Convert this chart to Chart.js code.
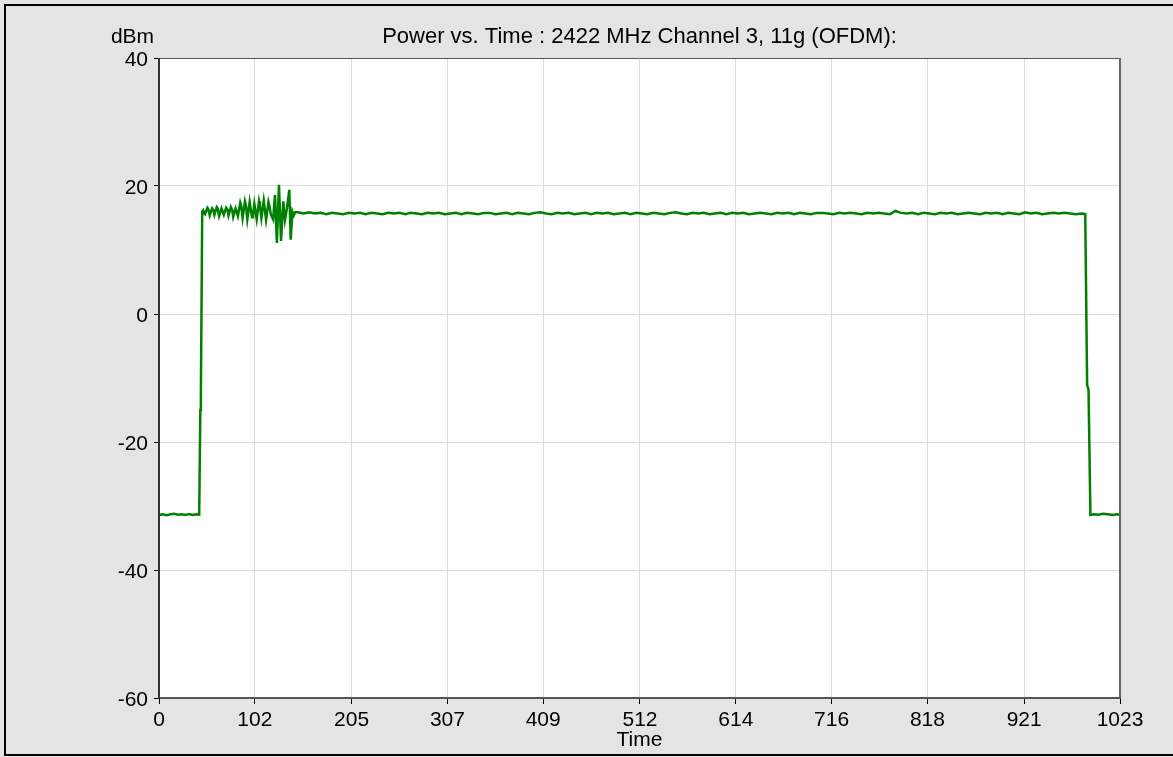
<!DOCTYPE html>
<html>
<head>
<meta charset="utf-8">
<title>Power vs. Time</title>
<script src="https://cdn.jsdelivr.net/npm/chart.js@4.4.1/dist/chart.umd.min.js"></script>
<style>
  html, body { margin: 0; padding: 0; background: #e4e4e4; }
  #wrap { width: 1173px; height: 757px; position: relative; }
</style>
</head>
<body>
<div id="wrap"><canvas id="chartPower"></canvas></div>
<script>
// values
const chartTitle = "Power vs. Time : 2422 MHz Channel 3, 11g (OFDM):";
const yUnit = "dBm";
const xTitle = "Time";
const xTickValues = [0, 102, 205, 307, 409, 512, 614, 716, 818, 921, 1023];

// noise floor before the burst, and the rising edge
const leadTime = [0, 4, 8, 12, 16, 20, 24, 28, 32, 36, 40, 42.8, 44, 44.6, 46];
const leadDbm = [-31.4, -31.3, -31.45, -31.3, -31.2, -31.35, -31.3, -31.4, -31.25, -31.4, -31.3, -31.35, -15, -12.3, 16.0];

// ringing at the start of the burst
const burstTime = [47, 48, 49, 51.5, 52.5, 54, 56.5, 58, 59, 61.5, 62.5, 64, 66.5, 67.5, 69, 71.5, 73, 74, 76.5, 78, 79, 81.5, 84,
  86.5, 87.5, 89, 91.5, 92.5, 94, 96.5, 99, 100, 101.5, 104, 106.5, 107.5, 109, 111.5, 114, 116.5, 117.5, 119, 121.5,
  123.5, 125.5, 127.7, 129.9, 132.3, 134.1, 136, 138.7, 140.2, 142, 143.5, 145];
const burstDbm = [16.2, 15.8, 15.6, 16.6, 16.4, 15.4, 16.5, 16.2, 15.5, 16.7, 16.5, 15.3, 16.5, 16.1, 15.5, 16.6, 16.3, 15.4, 16.7, 16.2, 15.2, 16.5, 15.3,
  17.4, 16.9, 15.0, 17.6, 17.0, 14.8, 17.5, 15.1, 15.4, 17.2, 14.8, 17.6, 16.8, 15.0, 17.7, 14.7, 17.5, 16.9, 15.6, 14.8,
  18.6, 11.1, 20.2, 11.4, 17.6, 14.7, 16.3, 19.4, 11.6, 16.0, 15.4, 15.9];

// flat top of the burst
const plateauTime = [148, 154, 160, 166, 172, 178, 184, 190, 196, 202, 208, 214, 220, 226, 232, 238, 244, 250, 256, 262,
  268, 274, 280, 286, 292, 298, 304, 310, 316, 322, 328, 334, 340, 346, 352, 358, 364, 370, 376, 382,
  388, 394, 400, 406, 412, 418, 424, 430, 436, 442, 448, 454, 460, 466, 472, 478, 484, 490, 496, 502,
  508, 514, 520, 526, 532, 538, 544, 550, 556, 562, 568, 574, 580, 586, 592, 598, 604, 610, 616, 622,
  628, 634, 640, 646, 652, 658, 664, 670, 676, 682, 688, 694, 700, 706, 712, 718, 724, 730, 736, 742,
  748, 754, 760, 766, 772, 778, 784, 790, 796, 802, 808, 814, 820, 826, 832, 838, 844, 850, 856, 862,
  868, 874, 880, 886, 892, 898, 904, 910, 916, 922, 928, 934, 940, 946, 952, 958, 964, 970, 976, 982];
const plateauDbm = [15.9, 15.7, 15.9, 15.7, 15.8, 15.6, 15.8, 15.7, 15.6, 15.8, 15.7, 15.8, 15.6, 15.8, 15.7, 15.6, 15.8, 15.7, 15.8, 15.6,
  15.8, 15.7, 15.6, 15.8, 15.7, 15.8, 15.6, 15.7, 15.8, 15.6, 15.8, 15.7, 15.6, 15.8, 15.8, 15.6, 15.7, 15.8, 15.6, 15.8,
  15.7, 15.6, 15.8, 15.9, 15.7, 15.6, 15.8, 15.7, 15.8, 15.6, 15.7, 15.8, 15.6, 15.8, 15.7, 15.8, 15.6, 15.7, 15.8, 15.6,
  15.8, 15.7, 15.6, 15.8, 15.7, 15.6, 15.8, 15.9, 15.7, 15.6, 15.8, 15.7, 15.8, 15.6, 15.7, 15.8, 15.6, 15.8, 15.7, 15.8,
  15.6, 15.7, 15.8, 15.7, 15.6, 15.8, 15.7, 15.8, 15.6, 15.8, 15.7, 15.6, 15.8, 15.8, 15.7, 15.6, 15.8, 15.7, 15.8, 15.7,
  15.6, 15.8, 15.7, 15.8, 15.7, 15.6, 16.1, 15.8, 15.7, 15.8, 15.6, 15.8, 15.7, 15.6, 15.8, 15.7, 15.8, 15.6, 15.7, 15.8,
  15.7, 15.6, 15.8, 15.7, 15.8, 15.6, 15.8, 15.7, 15.6, 15.9, 15.7, 15.8, 15.6, 15.7, 15.8, 15.7, 15.8, 15.7, 15.6, 15.7];

// falling edge and noise floor after the burst
const tailTime = [986, 988, 989.5, 991.5, 995, 1000, 1005, 1010, 1015, 1020, 1023];
const tailDbm = [15.6, -11.1, -11.8, -31.4, -31.3, -31.35, -31.2, -31.3, -31.4, -31.3, -31.35];

const FONT = "'Liberation Sans', Arial, sans-serif";
const FONT_SIZE = 21;
const TITLE_SIZE = 22;

function toPoints(times, values) {
  return times.map((t, i) => ({ x: t, y: values[i] }));
}

const points = [].concat(
  toPoints(leadTime, leadDbm),
  toPoints(burstTime, burstDbm),
  toPoints(plateauTime, plateauDbm),
  toPoints(tailTime, tailDbm)
);

const frame = {
  id: "frame",
  beforeDraw(chart) {
    const { ctx, chartArea: a } = chart;
    ctx.save();
    ctx.fillStyle = "#e4e4e4";
    ctx.fillRect(0, 0, chart.width, chart.height);
    ctx.fillStyle = "#ffffff";
    ctx.fillRect(a.left, a.top, a.right - a.left, a.bottom - a.top);
    ctx.restore();
  },
  afterDraw(chart) {
    const { ctx, chartArea: a } = chart;
    ctx.save();
    // plot frame
    ctx.strokeStyle = "#555";
    ctx.lineWidth = 1;
    ctx.beginPath();
    ctx.moveTo(a.left, a.top + 0.5);
    ctx.lineTo(a.right, a.top + 0.5);
    ctx.stroke();
    ctx.lineWidth = 2;
    ctx.strokeStyle = "#666";
    ctx.beginPath();
    ctx.moveTo(a.right, a.top);
    ctx.lineTo(a.right, a.bottom);
    ctx.stroke();
    ctx.strokeStyle = "#555";
    ctx.beginPath();
    ctx.moveTo(a.left, a.bottom);
    ctx.lineTo(a.right + 1, a.bottom);
    ctx.stroke();
    ctx.strokeStyle = "#333";
    ctx.beginPath();
    ctx.moveTo(a.left, a.top);
    ctx.lineTo(a.left, a.bottom + 1);
    ctx.stroke();

    // outer border
    ctx.strokeStyle = "#000";
    ctx.lineWidth = 2;
    ctx.strokeRect(5, 5, chart.width + 20, chart.height - 2 - 5);

    // title and unit
    ctx.fillStyle = "#000";
    ctx.textBaseline = "alphabetic";
    ctx.textAlign = "center";
    ctx.font = TITLE_SIZE + "px " + FONT;
    ctx.fillText(chartTitle, (a.left + a.right) / 2, 43);
    ctx.font = FONT_SIZE + "px " + FONT;
    ctx.fillText(yUnit, 132.5, 43);
    ctx.restore();
  }
};

document.addEventListener("DOMContentLoaded", function () {
  new Chart(document.getElementById("chartPower"), {
    type: "line",
    data: {
      datasets: [{
        label: yUnit,
        data: points,
        borderColor: "#008000",
        borderWidth: 2.5,
        pointRadius: 0,
        tension: 0,
        fill: false
      }]
    },
    plugins: [frame],
    options: {
      responsive: true,
      maintainAspectRatio: false,
      animation: false,
      layout: { padding: { top: 58, right: 53, left: 0, bottom: 0 } },
      plugins: {
        legend: { display: false },
        title: { display: false },
        tooltip: { enabled: false }
      },
      scales: {
        x: {
          type: "linear",
          min: 0,
          max: 1023,
          afterBuildTicks(scale) {
            scale.ticks = xTickValues.map((v) => ({ value: v }));
          },
          afterFit(scale) { scale.height = 59; },
          ticks: {
            color: "#000",
            padding: 3.5,
            maxRotation: 0,
            autoSkip: false,
            font: { family: FONT, size: FONT_SIZE },
            callback: (v) => String(v)
          },
          grid: { color: "#dcdcdc", tickColor: "#000", tickLength: 6, lineWidth: 1 },
          border: { display: false },
          title: {
            display: true,
            text: xTitle,
            color: "#000",
            padding: { top: 0, bottom: 4 },
            font: { family: FONT, size: FONT_SIZE }
          }
        },
        y: {
          min: -60,
          max: 40,
          afterFit(scale) { scale.width = 159; },
          ticks: {
            stepSize: 20,
            color: "#000",
            padding: 6,
            labelOffset: 2,
            font: { family: FONT, size: FONT_SIZE }
          },
          grid: { color: "#dcdcdc", tickColor: "#000", tickLength: 5, lineWidth: 1 },
          border: { display: false }
        }
      }
    }
  });
});
</script>
</body>
</html>
